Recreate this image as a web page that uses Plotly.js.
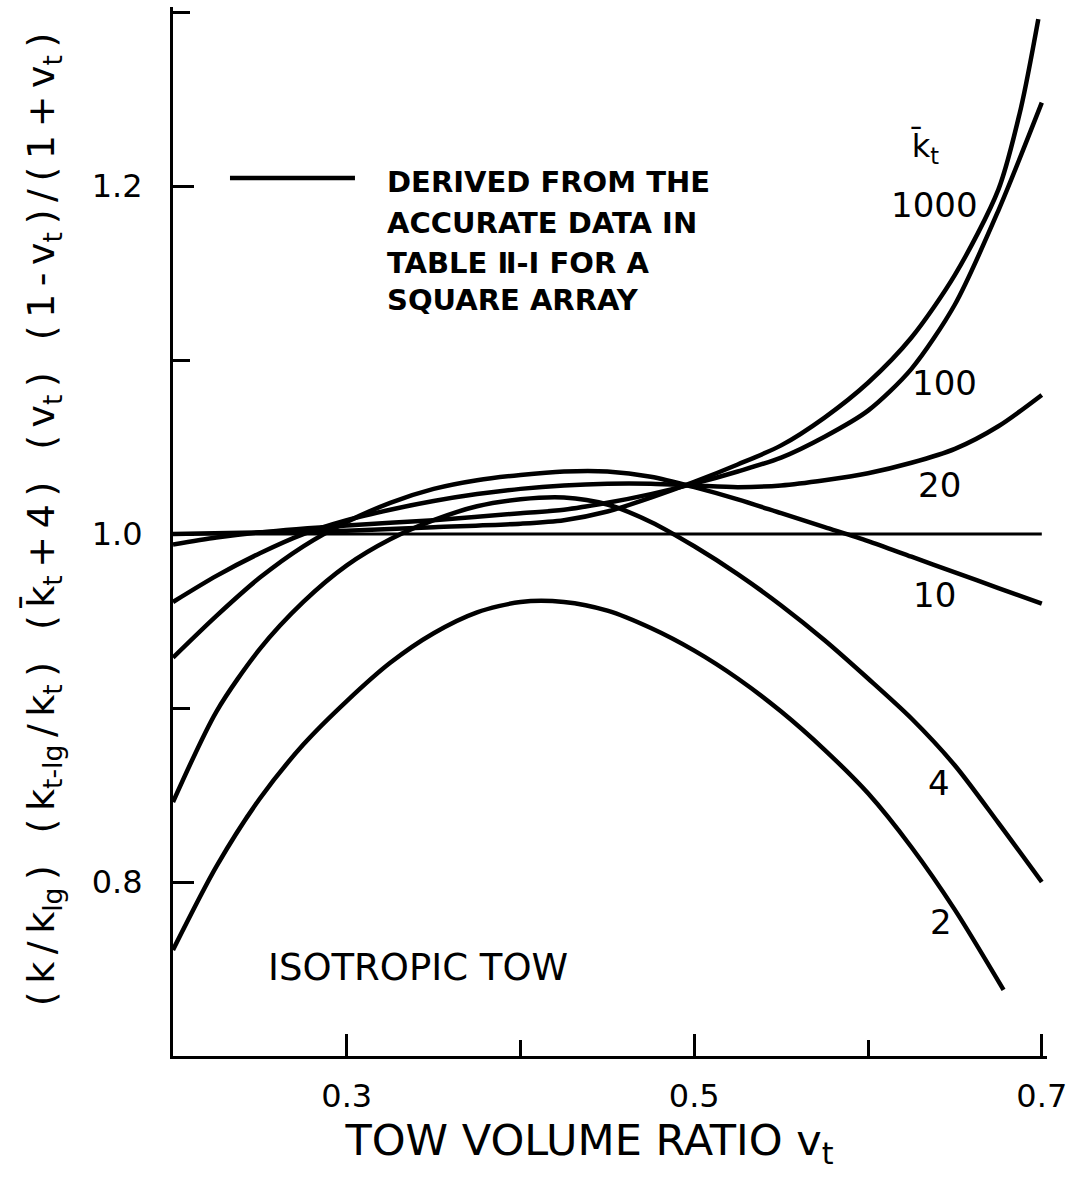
<!DOCTYPE html>
<html>
<head>
<meta charset="utf-8">
<script src="https://cdn.plot.ly/plotly-3.0.1.min.js"></script>
<style>html,body{margin:0;padding:0;background:#fff;}#chart{width:1067px;height:1178px;}</style>
</head>
<body>
<div id="chart"></div>
<script>
// ---- data ----
const kLabels = ["2", "4", "10", "20", "100", "1000"];

const x_k2 = [0.20,0.225,0.25,0.275,0.30,0.325,0.35,0.375,0.40,0.425,0.45,0.475,0.50,0.525,0.55,0.575,0.60,0.625,0.65,0.678];
const y_k2 = [0.761,0.809,0.848,0.879,0.904,0.926,0.943,0.955,0.961,0.961,0.956,0.946,0.933,0.917,0.898,0.876,0.851,0.820,0.784,0.738];

const x_k4 = [0.20,0.225,0.25,0.275,0.30,0.325,0.35,0.375,0.40,0.425,0.45,0.475,0.50,0.525,0.55,0.575,0.60,0.625,0.65,0.675,0.70];
const y_k4 = [0.846,0.898,0.934,0.961,0.982,0.997,1.008,1.016,1.020,1.021,1.017,1.007,0.993,0.977,0.959,0.939,0.917,0.894,0.867,0.834,0.800];

const x_k10 = [0.20,0.225,0.25,0.275,0.30,0.325,0.35,0.375,0.40,0.425,0.45,0.475,0.50,0.525,0.55,0.575,0.60,0.625,0.65,0.675,0.70];
const y_k10 = [0.929,0.953,0.975,0.993,1.007,1.018,1.026,1.031,1.034,1.036,1.036,1.033,1.027,1.020,1.012,1.004,0.996,0.987,0.978,0.969,0.960];

const x_k20 = [0.20,0.225,0.25,0.275,0.30,0.325,0.35,0.375,0.40,0.425,0.45,0.475,0.50,0.525,0.55,0.575,0.60,0.625,0.65,0.675,0.70];
const y_k20 = [0.961,0.976,0.989,1.000,1.008,1.014,1.019,1.023,1.026,1.028,1.029,1.029,1.028,1.027,1.028,1.031,1.035,1.041,1.049,1.062,1.080];

const x_k100 = [0.20,0.225,0.25,0.30,0.35,0.40,0.425,0.45,0.475,0.50,0.525,0.55,0.575,0.60,0.625,0.65,0.675,0.70];
const y_k100 = [0.994,0.998,1.001,1.005,1.008,1.012,1.014,1.018,1.023,1.029,1.036,1.044,1.056,1.071,1.095,1.132,1.186,1.248];

const x_k1000 = [0.20,0.25,0.30,0.35,0.40,0.425,0.45,0.475,0.50,0.525,0.55,0.575,0.60,0.625,0.65,0.675,0.688,0.698];
const y_k1000 = [1.000,1.001,1.002,1.004,1.006,1.008,1.013,1.021,1.030,1.040,1.051,1.067,1.087,1.113,1.149,1.198,1.245,1.296];

const x_ref = [0.2, 0.7];
const y_ref = [1.0, 1.0];

// curve label positions (text placement)
const labelX = [0.642, 0.641, 0.638, 0.641, 0.644, 0.638];
const labelY = [0.777, 0.857, 0.965, 1.028, 1.087, 1.189];

const xTickVals = [0.3, 0.5, 0.7];
const xTickText = ["0.3", "0.5", "0.7"];
const xMinorVals = [0.4, 0.6];
const yTickVals = [0.8, 1.0, 1.2];
const yTickText = ["0.8", "1.0", "1.2"];
const yMinorVals = [0.9, 1.1, 1.3];

const legendLines = ["DERIVED FROM THE", "ACCURATE DATA IN", "TABLE \u2161-I FOR A", "SQUARE ARRAY"];

// ---- build ----
const FONT = "DejaVu Sans";
const T = "\u2009", S = "\u00A0\u00A0\u2009";
const yTitle = "\u200C\u00A0\u00A0(" + T + "k" + T + "/" + T + "k<sub>lg</sub>" + T + ")" + S +
  "(" + T + "k<sub>t-lg</sub>" + T + "/" + T + "k<sub>t</sub>" + T + ")" + S +
  "(" + T + "k\u0304<sub>t</sub>" + T + "+" + T + "4" + T + ")" + S +
  "(" + T + "v<sub>t</sub>" + T + ")" + S +
  "(" + T + "1" + T + "-" + T + "v<sub>t</sub>" + T + ")" + T + "/" + T +
  "(" + T + "1" + T + "+" + T + "v<sub>t</sub>" + T + ")";
const xTitle = "TOW VOLUME RATIO v<sub>t</sub>\u00A0\u00A0\u00A0\u200C";

const xs = [x_k2, x_k4, x_k10, x_k20, x_k100, x_k1000];
const ys = [y_k2, y_k4, y_k10, y_k20, y_k100, y_k1000];

const traces = xs.map((xv, i) => ({
  x: xv, y: ys[i], type: "scatter", mode: "lines",
  line: {color: "black", width: 4.5, shape: "spline", smoothing: 0.8},
  name: kLabels[i], showlegend: false, hoverinfo: "skip"
}));
traces.push({x: x_ref, y: y_ref, type: "scatter", mode: "lines",
  line: {color: "black", width: 3}, showlegend: false, hoverinfo: "skip"});

const annotations = kLabels.map((t, i) => ({
  x: labelX[i], y: labelY[i], xref: "x", yref: "y", text: t, showarrow: false,
  font: {family: FONT, size: 34, color: "black"}
}));
annotations.push({x: 0.633, y: 1.222, xref: "x", yref: "y", text: "k\u0304<sub>t</sub>", showarrow: false,
  font: {family: FONT, size: 32, color: "black"}});
annotations.push({x: 0.341, y: 0.751, xref: "x", yref: "y", text: "ISOTROPIC TOW", showarrow: false,
  font: {family: FONT, size: 37, color: "black"}});
const legendY = [0.8332, 0.7942, 0.7564, 0.7203];
legendLines.forEach((t, i) => annotations.push({
  x: 0.2425, y: legendY[i], xref: "paper", yref: "paper", xanchor: "left", yanchor: "middle",
  align: "left", showarrow: false, text: t,
  font: {family: FONT, size: 29, color: "black", weight: "bold"}
}));

const layout = {
  width: 1067, height: 1178,
  margin: {l: 173, r: 20, t: 7, b: 122},
  paper_bgcolor: "white", plot_bgcolor: "white",
  showlegend: false,
  font: {family: FONT, color: "black"},
  xaxis: {
    range: [0.2, 0.703], showgrid: false, zeroline: false,
    showline: true, linecolor: "black", linewidth: 3, mirror: false,
    tickmode: "array", tickvals: xTickVals, ticktext: xTickText,
    ticks: "inside", ticklen: 22, tickwidth: 3, tickcolor: "black",
    minor: {tickmode: "array", tickvals: xMinorVals, ticks: "inside", ticklen: 16, tickwidth: 3, tickcolor: "black", showgrid: false},
    tickfont: {family: FONT, size: 32, color: "black"},
    ticklabelstandoff: 10, ticklabeloverflow: "allow",
    title: {text: xTitle, font: {family: FONT, size: 43, color: "black"}, standoff: 8}
  },
  yaxis: {
    range: [0.7, 1.303], showgrid: false, zeroline: false,
    showline: true, linecolor: "black", linewidth: 3, mirror: false,
    tickmode: "array", tickvals: yTickVals, ticktext: yTickText,
    ticks: "inside", ticklen: 21, tickwidth: 3, tickcolor: "black",
    minor: {tickmode: "array", tickvals: yMinorVals, ticks: "inside", ticklen: 17, tickwidth: 3, tickcolor: "black", showgrid: false},
    tickfont: {family: FONT, size: 32, color: "black"},
    ticklabelstandoff: 21, ticklabeloverflow: "allow",
    title: {text: yTitle, font: {family: FONT, size: 38, color: "black"}, standoff: 26}
  },
  shapes: [
    {type: "line", xref: "paper", yref: "paper", x0: 0.0652, x1: 0.2082, y0: 0.8370, y1: 0.8370,
      line: {color: "black", width: 4.5}}
  ],
  annotations: annotations
};

Plotly.newPlot("chart", traces, layout, {staticPlot: true, displayModeBar: false});
</script>
</body>
</html>
